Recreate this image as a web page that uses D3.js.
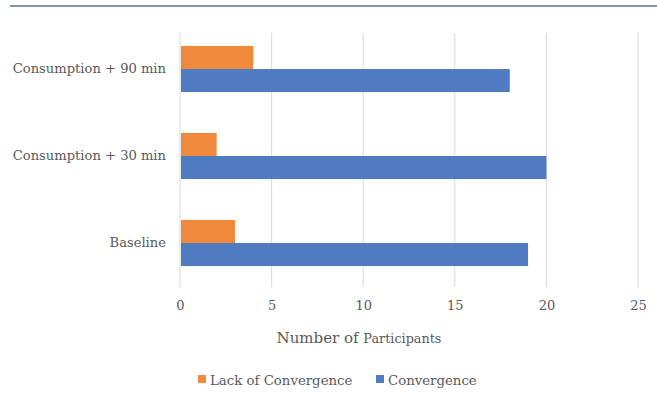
<!DOCTYPE html>
<html>
<head>
<meta charset="utf-8">
<script src="https://cdn.jsdelivr.net/npm/d3@7"></script>
<style>
  html, body { margin: 0; padding: 0; background: #fff; }
  svg { display: block; }
</style>
</head>
<body>
<svg id="chart" width="657" height="393"></svg>
<script>
// Groups, top to bottom
const categories = ["Consumption + 90 min", "Consumption + 30 min", "Baseline"];
const seriesNames = ["Lack of Convergence", "Convergence"];
const lackOfConvergence = [4, 2, 3];
const convergence = [18, 20, 19];
const xTicks = [0, 5, 10, 15, 20, 25];
const colors = ["#F0893B", "#4F7BC1"];
const FONT = "DejaVu Serif";

const svg = d3.select("#chart");

const x = d3.scaleLinear().domain([0, 25]).range([180, 638]);
const y = d3.scaleBand().domain(categories).range([25.5, 286.5]).paddingInner(0.47).paddingOuter(0.235);
const sub = d3.scaleBand().domain(seriesNames).range([0, y.bandwidth()]);

// Header rule
svg.append("line")
  .attr("x1", 10).attr("x2", 657).attr("y1", 6).attr("y2", 6)
  .attr("stroke", "#7F97A8").attr("stroke-width", 2);

// Vertical gridlines
svg.append("g")
  .selectAll("line")
  .data(xTicks)
  .join("line")
  .attr("x1", d => x(d)).attr("x2", d => x(d))
  .attr("y1", 33).attr("y2", 287)
  .attr("stroke", "#D9D9D9").attr("stroke-width", 1);

// Bars
const rows = categories.map((c, i) => ({
  category: c,
  values: [
    { series: seriesNames[0], value: lackOfConvergence[i], color: colors[0] },
    { series: seriesNames[1], value: convergence[i], color: colors[1] }
  ]
}));

svg.append("g")
  .selectAll("g")
  .data(rows)
  .join("g")
  .attr("transform", d => `translate(0,${y(d.category)})`)
  .selectAll("rect")
  .data(d => d.values)
  .join("rect")
  .attr("x", x(0) + 1)
  .attr("y", d => sub(d.series))
  .attr("width", d => x(d.value) - x(0) - 1)
  .attr("height", sub.bandwidth())
  .attr("fill", d => d.color);

// X tick labels
const xAxis = d3.axisBottom(x).tickValues(xTicks).tickSize(0).tickPadding(0);
const gx = svg.append("g").attr("transform", "translate(0,301)").call(xAxis)
  .attr("font-family", FONT).attr("font-size", 13);
gx.select(".domain").remove();
gx.selectAll("text").attr("dy", "0.71em").attr("fill", "#595959");

// Category labels
const yAxis = d3.axisLeft(y).tickSize(0).tickPadding(0);
const gy = svg.append("g").attr("transform", "translate(166,0)").call(yAxis)
  .attr("font-family", FONT).attr("font-size", 13.1);
gy.select(".domain").remove();
gy.selectAll("text").attr("fill", "#595959").attr("dy", "0.32em");

// Axis title
const title = svg.append("text")
  .attr("x", 359).attr("y", 343)
  .attr("text-anchor", "middle")
  .attr("font-family", FONT).attr("fill", "#595959");
title.append("tspan").attr("font-size", 15).text("Number of ");
title.append("tspan").attr("font-size", 12.8).text("Participants");

// Legend
const legend = svg.append("g").attr("transform", "translate(0,380)");
const legendItems = [
  { name: seriesNames[0], color: colors[0], x: 198 },
  { name: seriesNames[1], color: colors[1], x: 376 }
];
const li = legend.selectAll("g").data(legendItems).join("g")
  .attr("transform", d => `translate(${d.x},0)`);
li.append("rect").attr("x", 0).attr("y", -5).attr("width", 8).attr("height", 8)
  .attr("fill", d => d.color);
li.append("text").attr("x", 12).attr("y", 0).attr("dy", "0.35em")
  .attr("font-family", FONT).attr("font-size", 13.3).attr("fill", "#595959")
  .text(d => d.name);
</script>
</body>
</html>
